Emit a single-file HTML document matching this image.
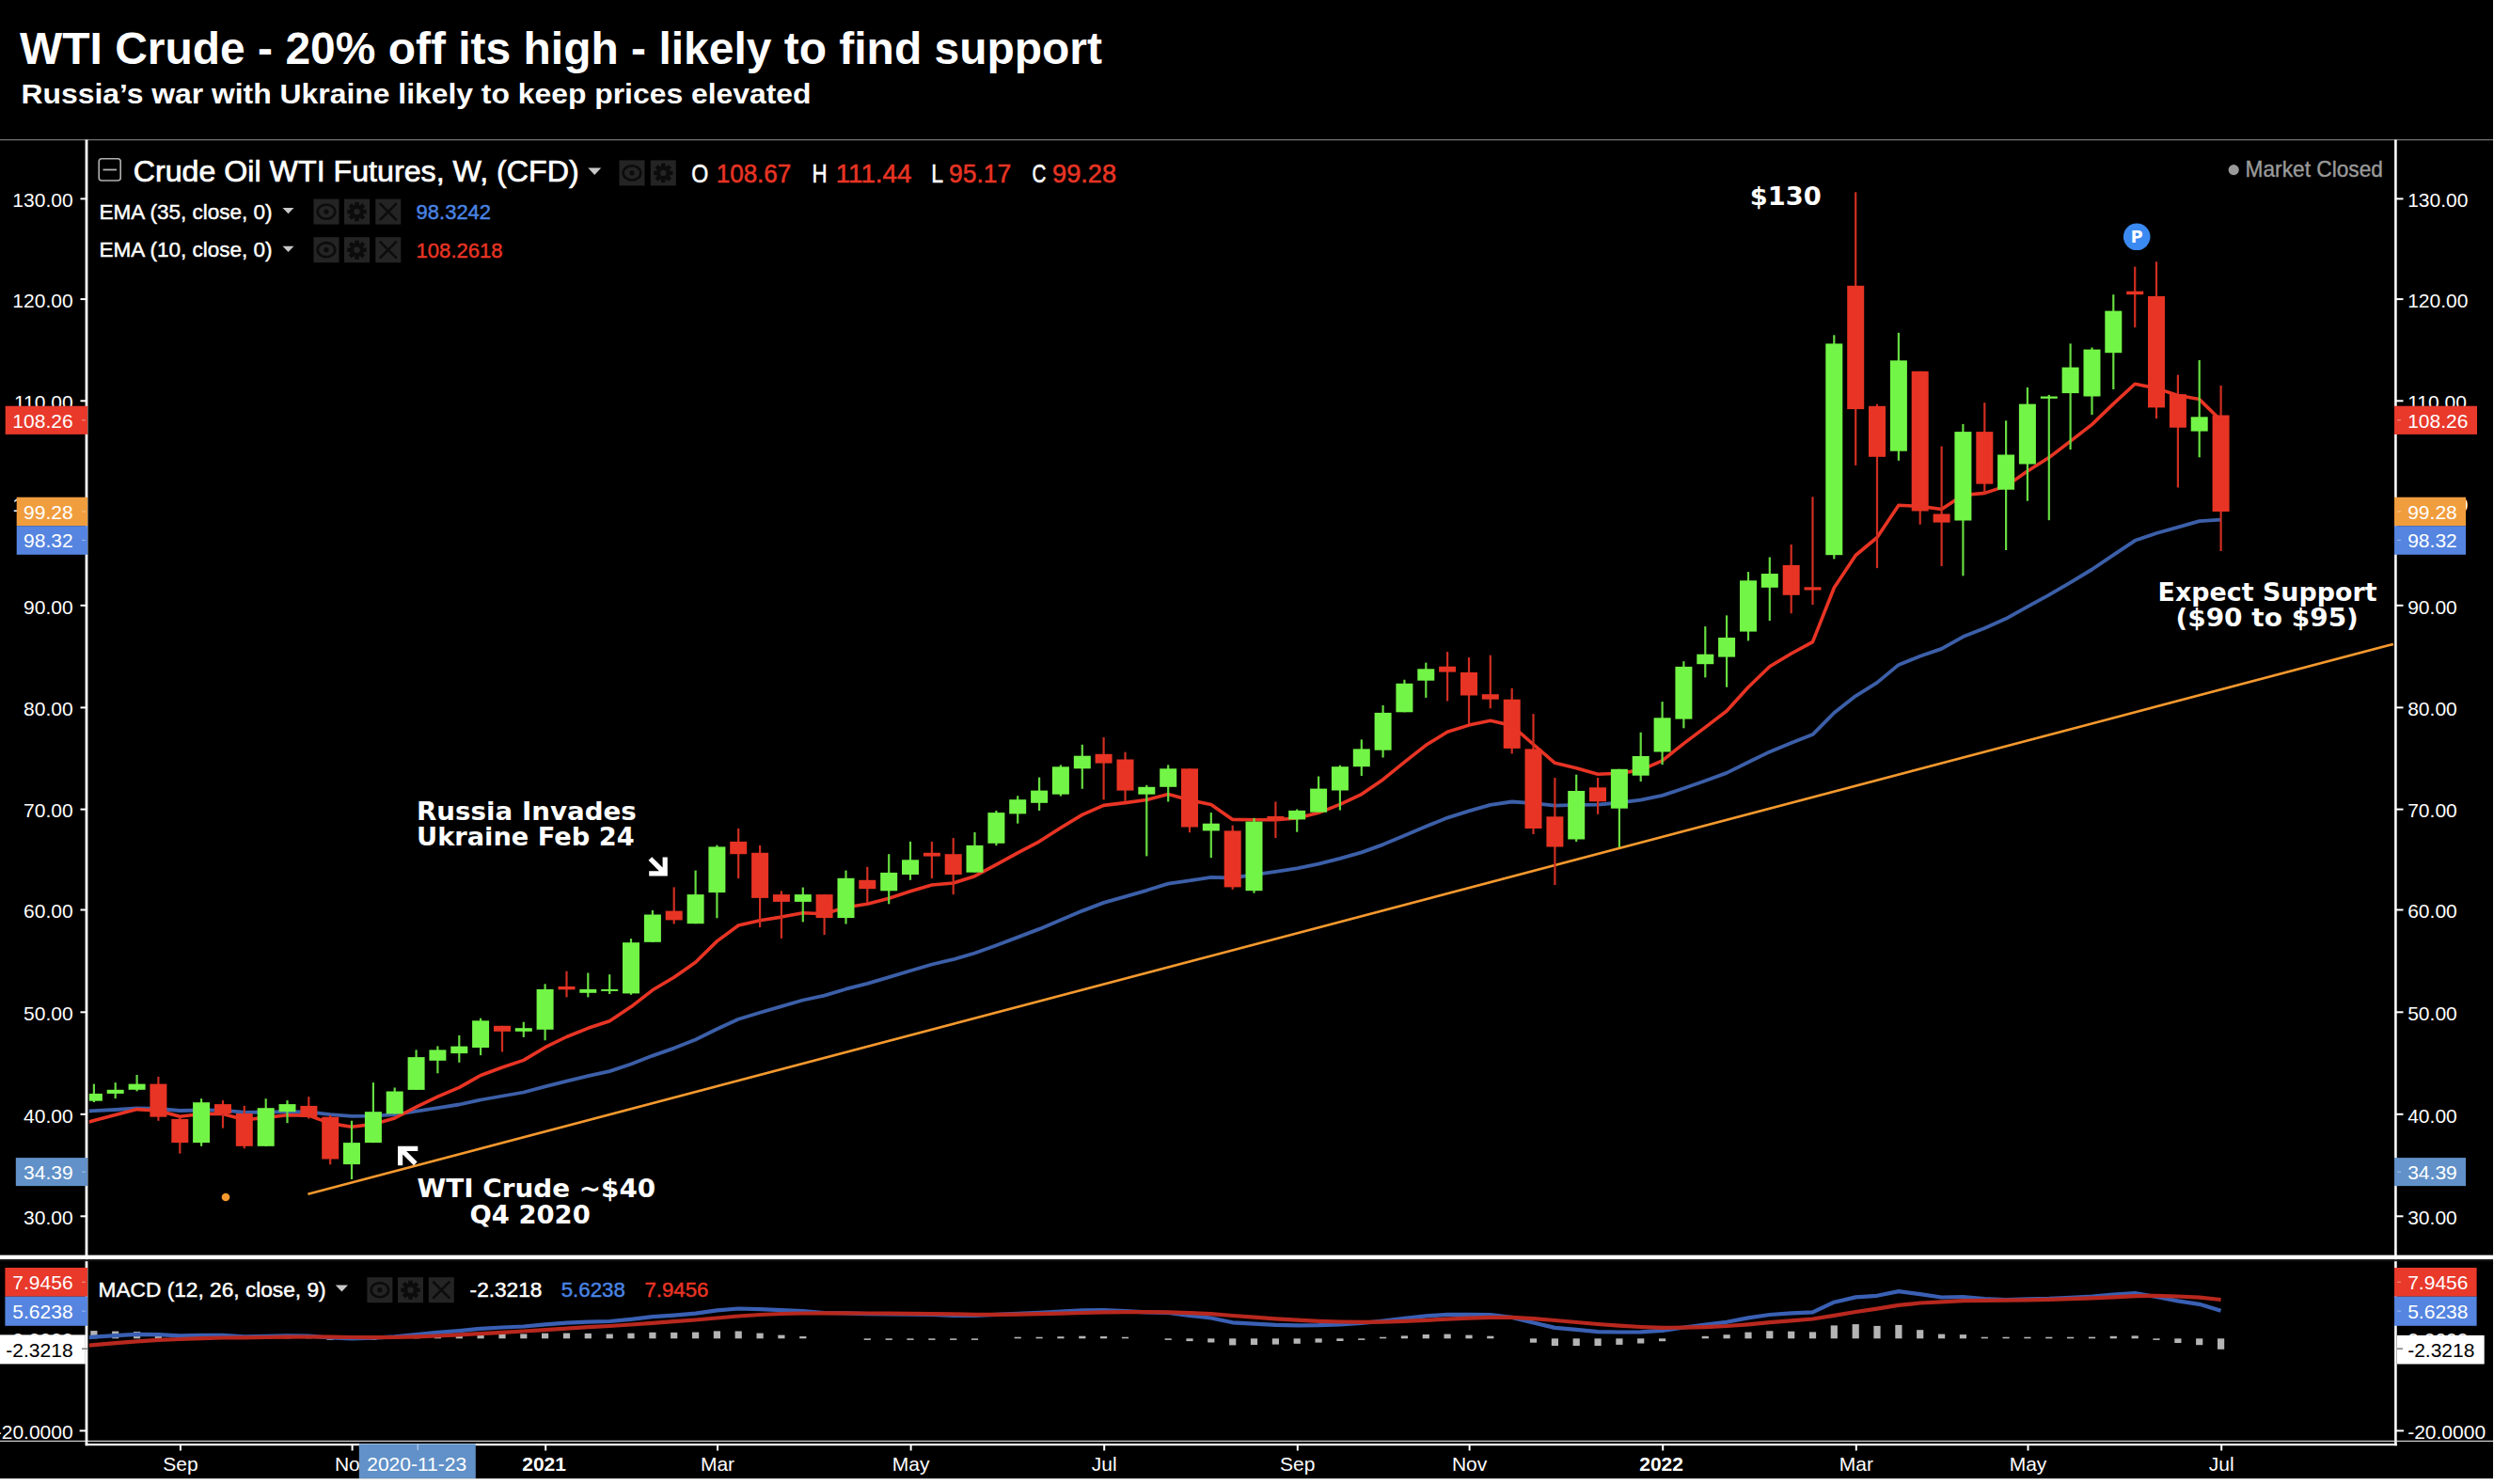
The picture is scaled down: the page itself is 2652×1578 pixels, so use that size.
<!DOCTYPE html>
<html lang="en"><head><meta charset="utf-8"><title>WTI Crude - 20% off its high - likely to find support</title>
<style>html,body{margin:0;padding:0;background:#000;}body{width:2652px;height:1578px;overflow:hidden;position:relative;}</style></head>
<body>
<svg width="2652" height="1578" viewBox="0 0 2652 1578" style="position:absolute;left:0;top:0;display:block">
<rect x="0" y="0" width="2652" height="1578" fill="#000"/>
<text x="21" y="68" font-family='"Liberation Sans", Arial, Helvetica, sans-serif' font-weight="700" font-size="48" fill="#fff" textLength="1151" lengthAdjust="spacingAndGlyphs">WTI Crude - 20% off its high - likely to find support</text>
<text x="22.5" y="109.7" font-family='"Liberation Sans", Arial, Helvetica, sans-serif' font-weight="700" font-size="30" fill="#fff" textLength="840" lengthAdjust="spacingAndGlyphs">Russia’s war with Ukraine likely to keep prices elevated</text>
<rect x="0" y="148" width="2651" height="1.3" fill="#707070"/>
<defs><clipPath id="cpMain"><rect x="94.8" y="149.5" width="2451" height="1185"/></clipPath><clipPath id="cpMacd"><rect x="94.8" y="1341" width="2451" height="191"/></clipPath></defs>
<g id="chart" clip-path="url(#cpMain)">
<line x1="327.4" y1="1269.8" x2="2545" y2="684.9" stroke="#f5992e" stroke-width="2.6" stroke-linecap="butt"/>
<circle cx="240" cy="1273" r="4.3" fill="#f5992e"/>
<polyline points="77.1,1182.4 99.9,1181.2 122.7,1180.0 145.6,1178.4 168.4,1179.0 191.3,1181.0 214.1,1180.5 237.0,1180.7 259.8,1182.8 282.7,1182.5 305.5,1182.1 328.4,1182.4 351.2,1185.2 374.0,1186.8 396.9,1186.6 419.7,1185.1 442.6,1181.7 465.4,1178.1 488.3,1174.5 511.1,1169.5 534.0,1165.5 556.8,1161.5 579.6,1155.4 602.5,1149.6 625.3,1144.2 648.2,1139.1 671.0,1131.5 693.9,1122.6 716.7,1114.6 739.6,1105.5 762.4,1094.2 785.2,1083.8 808.1,1076.7 830.9,1070.1 853.8,1063.5 876.6,1058.6 899.5,1051.7 922.3,1045.8 945.2,1039.2 968.0,1032.3 990.9,1025.5 1013.7,1020.2 1036.5,1013.5 1059.4,1005.2 1082.2,996.6 1105.1,987.9 1127.9,978.3 1150.8,968.6 1173.6,959.9 1196.5,953.3 1219.3,946.8 1242.2,939.6 1265.0,936.3 1287.8,932.9 1310.7,933.5 1333.5,930.2 1356.4,926.9 1379.2,923.3 1402.1,918.6 1424.9,912.8 1447.8,906.4 1470.6,898.1 1493.4,888.6 1516.3,878.8 1539.1,869.6 1562.0,862.4 1584.8,855.8 1607.7,852.5 1630.5,854.1 1653.4,856.6 1676.2,855.8 1699.0,855.6 1721.9,853.5 1744.7,850.7 1767.6,845.9 1790.4,838.3 1813.3,830.3 1836.1,821.9 1859.0,810.5 1881.8,799.4 1904.7,790.1 1927.5,781.1 1950.3,758.0 1973.2,740.1 1996.0,725.9 2018.9,706.9 2041.7,697.8 2064.6,689.9 2087.4,677.1 2110.3,668.1 2133.1,657.8 2155.9,645.1 2178.8,632.7 2201.6,619.3 2224.5,605.5 2247.3,590.2 2270.2,574.8 2293.0,567.0 2315.9,560.7 2338.7,554.2 2361.6,552.6" fill="none" stroke="#3c5fa8" stroke-width="3.8" stroke-linejoin="round" stroke-linecap="butt" />
<polyline points="77.1,1197.4 99.9,1191.5 122.7,1185.6 145.6,1179.6 168.4,1181.0 191.3,1187.2 214.1,1184.5 237.0,1184.4 259.8,1190.7 282.7,1188.4 305.5,1185.8 328.4,1186.1 351.2,1194.6 374.0,1198.3 396.9,1195.4 419.7,1189.0 442.6,1177.2 465.4,1166.2 488.3,1156.4 511.1,1143.5 534.0,1135.0 556.8,1127.4 579.6,1113.7 602.5,1102.5 625.3,1093.3 648.2,1085.8 671.0,1070.6 693.9,1052.8 716.7,1039.2 739.6,1023.2 762.4,1000.9 785.2,984.0 808.1,978.7 830.9,975.1 853.8,970.8 876.6,971.7 899.5,964.8 922.3,961.3 945.2,955.2 968.0,947.8 990.9,941.0 1013.7,939.0 1036.5,931.7 1059.4,919.4 1082.2,906.8 1105.1,894.8 1127.9,880.3 1150.8,866.4 1173.6,856.4 1196.5,853.6 1219.3,850.5 1242.2,844.5 1265.0,850.8 1287.8,855.4 1310.7,871.4 1333.5,871.8 1356.4,871.7 1379.2,870.0 1402.1,864.3 1424.9,855.3 1447.8,844.6 1470.6,828.9 1493.4,810.3 1516.3,792.3 1539.1,778.2 1562.0,771.1 1584.8,766.2 1607.7,771.6 1630.5,791.5 1653.4,811.3 1676.2,816.7 1699.0,823.2 1721.9,822.2 1744.7,818.9 1767.6,808.8 1790.4,790.6 1813.3,773.4 1836.1,756.0 1859.0,730.8 1881.8,708.8 1904.7,695.0 1927.5,682.7 1950.3,625.0 1973.2,590.5 1996.0,571.5 2018.9,537.3 2041.7,538.4 2064.6,541.5 2087.4,526.5 2110.3,524.4 2133.1,516.9 2155.9,501.1 2178.8,486.6 2201.6,469.1 2224.5,451.4 2247.3,429.4 2270.2,408.3 2293.0,412.9 2315.9,420.5 2338.7,424.6 2361.6,447.0" fill="none" stroke="#e83424" stroke-width="3.6" stroke-linejoin="round" stroke-linecap="butt" />
<rect x="98.8" y="1152.6" width="2.2" height="19.4" fill="#66dc40"/>
<rect x="90.9" y="1162.9" width="18.0" height="7.8" fill="#73f547"/>
<rect x="121.6" y="1151.1" width="2.2" height="17.0" fill="#66dc40"/>
<rect x="113.7" y="1158.8" width="18.0" height="4.1" fill="#73f547"/>
<rect x="144.5" y="1143.0" width="2.2" height="17.4" fill="#66dc40"/>
<rect x="136.6" y="1152.6" width="18.0" height="6.2" fill="#73f547"/>
<rect x="167.3" y="1144.9" width="2.2" height="46.9" fill="#d02e21"/>
<rect x="159.4" y="1152.6" width="18.0" height="35.1" fill="#e83424"/>
<rect x="190.2" y="1187.7" width="2.2" height="38.9" fill="#d02e21"/>
<rect x="182.3" y="1189.9" width="18.0" height="25.2" fill="#e83424"/>
<rect x="213.0" y="1168.2" width="2.2" height="50.6" fill="#66dc40"/>
<rect x="205.1" y="1172.2" width="18.0" height="42.9" fill="#73f547"/>
<rect x="235.9" y="1170.1" width="2.2" height="29.5" fill="#d02e21"/>
<rect x="228.0" y="1174.1" width="18.0" height="9.9" fill="#e83424"/>
<rect x="258.7" y="1175.9" width="2.2" height="45.4" fill="#d02e21"/>
<rect x="250.8" y="1184.0" width="18.0" height="34.8" fill="#e83424"/>
<rect x="281.6" y="1168.2" width="2.2" height="50.6" fill="#66dc40"/>
<rect x="273.7" y="1178.2" width="18.0" height="40.6" fill="#73f547"/>
<rect x="304.4" y="1170.1" width="2.2" height="24.1" fill="#66dc40"/>
<rect x="296.5" y="1174.1" width="18.0" height="8.1" fill="#73f547"/>
<rect x="327.2" y="1166.2" width="2.2" height="23.4" fill="#d02e21"/>
<rect x="319.4" y="1175.9" width="18.0" height="11.8" fill="#e83424"/>
<rect x="350.1" y="1185.9" width="2.2" height="52.4" fill="#d02e21"/>
<rect x="342.2" y="1187.7" width="18.0" height="44.8" fill="#e83424"/>
<rect x="372.9" y="1191.7" width="2.2" height="62.3" fill="#66dc40"/>
<rect x="365.0" y="1215.1" width="18.0" height="23.0" fill="#73f547"/>
<rect x="395.8" y="1151.1" width="2.2" height="64.0" fill="#66dc40"/>
<rect x="387.9" y="1182.2" width="18.0" height="32.9" fill="#73f547"/>
<rect x="418.6" y="1156.5" width="2.2" height="27.9" fill="#66dc40"/>
<rect x="410.7" y="1160.5" width="18.0" height="23.9" fill="#73f547"/>
<rect x="441.5" y="1116.4" width="2.2" height="42.5" fill="#66dc40"/>
<rect x="433.6" y="1124.1" width="18.0" height="34.8" fill="#73f547"/>
<rect x="464.3" y="1112.4" width="2.2" height="28.9" fill="#66dc40"/>
<rect x="456.4" y="1116.4" width="18.0" height="11.4" fill="#73f547"/>
<rect x="487.2" y="1100.9" width="2.2" height="28.9" fill="#66dc40"/>
<rect x="479.3" y="1112.6" width="18.0" height="7.5" fill="#73f547"/>
<rect x="510.0" y="1082.7" width="2.2" height="39.4" fill="#66dc40"/>
<rect x="502.1" y="1085.3" width="18.0" height="28.7" fill="#73f547"/>
<rect x="532.9" y="1090.8" width="2.2" height="27.7" fill="#d02e21"/>
<rect x="525.0" y="1090.8" width="18.0" height="6.0" fill="#e83424"/>
<rect x="555.7" y="1086.7" width="2.2" height="16.2" fill="#66dc40"/>
<rect x="547.8" y="1093.2" width="18.0" height="3.6" fill="#73f547"/>
<rect x="578.5" y="1046.3" width="2.2" height="60.0" fill="#66dc40"/>
<rect x="570.6" y="1051.9" width="18.0" height="42.9" fill="#73f547"/>
<rect x="601.4" y="1032.7" width="2.2" height="27.7" fill="#d02e21"/>
<rect x="593.5" y="1048.9" width="18.0" height="3.4" fill="#e83424"/>
<rect x="624.2" y="1034.5" width="2.2" height="25.9" fill="#66dc40"/>
<rect x="616.3" y="1051.9" width="18.0" height="3.9" fill="#73f547"/>
<rect x="647.1" y="1036.2" width="2.2" height="20.8" fill="#66dc40"/>
<rect x="639.2" y="1051.9" width="18.0" height="2.0" fill="#73f547"/>
<rect x="669.9" y="998.1" width="2.2" height="59.7" fill="#66dc40"/>
<rect x="662.0" y="1002.2" width="18.0" height="54.2" fill="#73f547"/>
<rect x="692.8" y="968.0" width="2.2" height="33.8" fill="#66dc40"/>
<rect x="684.9" y="972.5" width="18.0" height="29.3" fill="#73f547"/>
<rect x="715.6" y="943.4" width="2.2" height="39.1" fill="#d02e21"/>
<rect x="707.7" y="968.6" width="18.0" height="9.8" fill="#e83424"/>
<rect x="738.5" y="925.6" width="2.2" height="56.6" fill="#66dc40"/>
<rect x="730.6" y="951.1" width="18.0" height="31.1" fill="#73f547"/>
<rect x="761.3" y="898.6" width="2.2" height="77.7" fill="#66dc40"/>
<rect x="753.4" y="900.4" width="18.0" height="48.7" fill="#73f547"/>
<rect x="784.1" y="880.9" width="2.2" height="53.2" fill="#d02e21"/>
<rect x="776.2" y="894.9" width="18.0" height="13.3" fill="#e83424"/>
<rect x="807.0" y="898.9" width="2.2" height="87.2" fill="#d02e21"/>
<rect x="799.1" y="906.8" width="18.0" height="48.1" fill="#e83424"/>
<rect x="829.8" y="947.3" width="2.2" height="50.6" fill="#d02e21"/>
<rect x="821.9" y="951.1" width="18.0" height="7.8" fill="#e83424"/>
<rect x="852.7" y="943.6" width="2.2" height="36.8" fill="#66dc40"/>
<rect x="844.8" y="951.1" width="18.0" height="7.8" fill="#73f547"/>
<rect x="875.5" y="951.1" width="2.2" height="43.0" fill="#d02e21"/>
<rect x="867.6" y="951.1" width="18.0" height="25.0" fill="#e83424"/>
<rect x="898.4" y="925.6" width="2.2" height="56.9" fill="#66dc40"/>
<rect x="890.5" y="933.8" width="18.0" height="42.3" fill="#73f547"/>
<rect x="921.2" y="921.8" width="2.2" height="38.2" fill="#d02e21"/>
<rect x="913.3" y="935.8" width="18.0" height="9.4" fill="#e83424"/>
<rect x="944.1" y="908.2" width="2.2" height="53.1" fill="#66dc40"/>
<rect x="936.2" y="927.9" width="18.0" height="19.4" fill="#73f547"/>
<rect x="966.9" y="894.9" width="2.2" height="40.9" fill="#66dc40"/>
<rect x="959.0" y="914.3" width="18.0" height="15.7" fill="#73f547"/>
<rect x="989.8" y="894.9" width="2.2" height="39.2" fill="#d02e21"/>
<rect x="981.9" y="906.8" width="18.0" height="3.8" fill="#e83424"/>
<rect x="1012.6" y="891.1" width="2.2" height="60.0" fill="#d02e21"/>
<rect x="1004.7" y="908.2" width="18.0" height="21.8" fill="#e83424"/>
<rect x="1035.4" y="885.0" width="2.2" height="42.7" fill="#66dc40"/>
<rect x="1027.5" y="898.9" width="18.0" height="28.8" fill="#73f547"/>
<rect x="1058.3" y="862.0" width="2.2" height="37.2" fill="#66dc40"/>
<rect x="1050.4" y="864.1" width="18.0" height="32.7" fill="#73f547"/>
<rect x="1081.1" y="846.3" width="2.2" height="29.4" fill="#66dc40"/>
<rect x="1073.2" y="850.2" width="18.0" height="15.2" fill="#73f547"/>
<rect x="1104.0" y="826.6" width="2.2" height="35.4" fill="#66dc40"/>
<rect x="1096.1" y="840.6" width="18.0" height="13.2" fill="#73f547"/>
<rect x="1126.8" y="813.4" width="2.2" height="33.2" fill="#66dc40"/>
<rect x="1118.9" y="815.3" width="18.0" height="29.4" fill="#73f547"/>
<rect x="1149.7" y="791.8" width="2.2" height="47.0" fill="#66dc40"/>
<rect x="1141.8" y="803.7" width="18.0" height="13.6" fill="#73f547"/>
<rect x="1172.5" y="784.0" width="2.2" height="66.4" fill="#d02e21"/>
<rect x="1164.6" y="801.8" width="18.0" height="9.8" fill="#e83424"/>
<rect x="1195.4" y="799.7" width="2.2" height="52.1" fill="#d02e21"/>
<rect x="1187.5" y="807.5" width="18.0" height="33.1" fill="#e83424"/>
<rect x="1218.2" y="834.8" width="2.2" height="75.6" fill="#66dc40"/>
<rect x="1210.3" y="836.8" width="18.0" height="7.9" fill="#73f547"/>
<rect x="1241.1" y="813.4" width="2.2" height="39.1" fill="#66dc40"/>
<rect x="1233.2" y="817.3" width="18.0" height="19.5" fill="#73f547"/>
<rect x="1263.9" y="817.3" width="2.2" height="67.9" fill="#d02e21"/>
<rect x="1256.0" y="817.3" width="18.0" height="62.2" fill="#e83424"/>
<rect x="1286.7" y="864.1" width="2.2" height="48.1" fill="#66dc40"/>
<rect x="1278.8" y="875.7" width="18.0" height="7.7" fill="#73f547"/>
<rect x="1309.6" y="877.7" width="2.2" height="68.2" fill="#d02e21"/>
<rect x="1301.7" y="883.4" width="18.0" height="60.0" fill="#e83424"/>
<rect x="1332.4" y="869.8" width="2.2" height="79.9" fill="#66dc40"/>
<rect x="1324.5" y="873.6" width="18.0" height="73.6" fill="#73f547"/>
<rect x="1355.3" y="852.5" width="2.2" height="38.6" fill="#d02e21"/>
<rect x="1347.4" y="867.9" width="18.0" height="3.7" fill="#e83424"/>
<rect x="1378.1" y="860.5" width="2.2" height="24.2" fill="#66dc40"/>
<rect x="1370.2" y="861.9" width="18.0" height="9.5" fill="#73f547"/>
<rect x="1401.0" y="825.5" width="2.2" height="38.2" fill="#66dc40"/>
<rect x="1393.1" y="838.6" width="18.0" height="25.1" fill="#73f547"/>
<rect x="1423.8" y="813.7" width="2.2" height="47.9" fill="#66dc40"/>
<rect x="1415.9" y="815.2" width="18.0" height="25.3" fill="#73f547"/>
<rect x="1446.7" y="786.4" width="2.2" height="38.6" fill="#66dc40"/>
<rect x="1438.8" y="796.4" width="18.0" height="18.8" fill="#73f547"/>
<rect x="1469.5" y="750.0" width="2.2" height="55.5" fill="#66dc40"/>
<rect x="1461.6" y="757.9" width="18.0" height="39.8" fill="#73f547"/>
<rect x="1492.3" y="722.8" width="2.2" height="34.5" fill="#66dc40"/>
<rect x="1484.4" y="726.8" width="18.0" height="30.5" fill="#73f547"/>
<rect x="1515.2" y="704.6" width="2.2" height="37.3" fill="#66dc40"/>
<rect x="1507.3" y="711.3" width="18.0" height="12.4" fill="#73f547"/>
<rect x="1538.0" y="693.1" width="2.2" height="52.4" fill="#d02e21"/>
<rect x="1530.1" y="708.7" width="18.0" height="5.9" fill="#e83424"/>
<rect x="1560.9" y="699.1" width="2.2" height="70.9" fill="#d02e21"/>
<rect x="1553.0" y="714.9" width="18.0" height="24.6" fill="#e83424"/>
<rect x="1583.7" y="696.7" width="2.2" height="56.6" fill="#d02e21"/>
<rect x="1575.8" y="738.2" width="18.0" height="5.5" fill="#e83424"/>
<rect x="1606.6" y="731.8" width="2.2" height="69.7" fill="#d02e21"/>
<rect x="1598.7" y="743.7" width="18.0" height="52.2" fill="#e83424"/>
<rect x="1629.4" y="759.1" width="2.2" height="127.9" fill="#d02e21"/>
<rect x="1621.5" y="796.4" width="18.0" height="84.6" fill="#e83424"/>
<rect x="1652.3" y="827.0" width="2.2" height="114.0" fill="#d02e21"/>
<rect x="1644.4" y="868.3" width="18.0" height="32.2" fill="#e83424"/>
<rect x="1675.1" y="823.7" width="2.2" height="71.3" fill="#66dc40"/>
<rect x="1667.2" y="841.0" width="18.0" height="51.5" fill="#73f547"/>
<rect x="1698.0" y="827.0" width="2.2" height="38.8" fill="#d02e21"/>
<rect x="1690.0" y="837.3" width="18.0" height="15.0" fill="#e83424"/>
<rect x="1720.8" y="817.8" width="2.2" height="83.2" fill="#66dc40"/>
<rect x="1712.9" y="817.8" width="18.0" height="41.9" fill="#73f547"/>
<rect x="1743.6" y="778.8" width="2.2" height="52.3" fill="#66dc40"/>
<rect x="1735.7" y="804.0" width="18.0" height="20.7" fill="#73f547"/>
<rect x="1766.5" y="746.1" width="2.2" height="67.1" fill="#66dc40"/>
<rect x="1758.6" y="763.3" width="18.0" height="36.2" fill="#73f547"/>
<rect x="1789.3" y="703.2" width="2.2" height="71.1" fill="#66dc40"/>
<rect x="1781.4" y="708.9" width="18.0" height="55.7" fill="#73f547"/>
<rect x="1812.2" y="666.1" width="2.2" height="54.3" fill="#66dc40"/>
<rect x="1804.3" y="695.7" width="18.0" height="10.5" fill="#73f547"/>
<rect x="1835.0" y="654.4" width="2.2" height="76.3" fill="#66dc40"/>
<rect x="1827.1" y="678.0" width="18.0" height="20.6" fill="#73f547"/>
<rect x="1857.9" y="608.1" width="2.2" height="73.3" fill="#66dc40"/>
<rect x="1850.0" y="617.3" width="18.0" height="54.3" fill="#73f547"/>
<rect x="1880.7" y="592.5" width="2.2" height="67.6" fill="#66dc40"/>
<rect x="1872.8" y="610.0" width="18.0" height="14.8" fill="#73f547"/>
<rect x="1903.6" y="579.0" width="2.2" height="73.3" fill="#d02e21"/>
<rect x="1895.7" y="600.9" width="18.0" height="31.9" fill="#e83424"/>
<rect x="1926.4" y="528.3" width="2.2" height="114.7" fill="#d02e21"/>
<rect x="1918.5" y="624.3" width="18.0" height="3.2" fill="#e83424"/>
<rect x="1949.2" y="356.3" width="2.2" height="238.1" fill="#66dc40"/>
<rect x="1941.3" y="365.4" width="18.0" height="224.8" fill="#73f547"/>
<rect x="1972.1" y="204.3" width="2.2" height="290.6" fill="#d02e21"/>
<rect x="1964.2" y="303.8" width="18.0" height="131.3" fill="#e83424"/>
<rect x="1994.9" y="429.7" width="2.2" height="174.4" fill="#d02e21"/>
<rect x="1987.0" y="431.8" width="18.0" height="54.0" fill="#e83424"/>
<rect x="2017.8" y="353.8" width="2.2" height="136.0" fill="#66dc40"/>
<rect x="2009.9" y="383.3" width="18.0" height="96.4" fill="#73f547"/>
<rect x="2040.6" y="394.8" width="2.2" height="162.9" fill="#d02e21"/>
<rect x="2032.7" y="394.8" width="18.0" height="148.7" fill="#e83424"/>
<rect x="2063.5" y="474.6" width="2.2" height="127.4" fill="#d02e21"/>
<rect x="2055.6" y="546.5" width="18.0" height="9.1" fill="#e83424"/>
<rect x="2086.3" y="450.9" width="2.2" height="161.4" fill="#66dc40"/>
<rect x="2078.4" y="459.1" width="18.0" height="94.4" fill="#73f547"/>
<rect x="2109.2" y="428.2" width="2.2" height="97.1" fill="#d02e21"/>
<rect x="2101.3" y="459.1" width="18.0" height="55.5" fill="#e83424"/>
<rect x="2132.0" y="447.3" width="2.2" height="137.7" fill="#66dc40"/>
<rect x="2124.1" y="483.5" width="18.0" height="37.2" fill="#73f547"/>
<rect x="2154.8" y="412.0" width="2.2" height="120.7" fill="#66dc40"/>
<rect x="2146.9" y="429.6" width="18.0" height="63.9" fill="#73f547"/>
<rect x="2177.7" y="419.9" width="2.2" height="133.3" fill="#66dc40"/>
<rect x="2169.8" y="421.5" width="18.0" height="2.3" fill="#73f547"/>
<rect x="2200.5" y="365.4" width="2.2" height="112.7" fill="#66dc40"/>
<rect x="2192.6" y="390.6" width="18.0" height="27.5" fill="#73f547"/>
<rect x="2223.4" y="369.5" width="2.2" height="71.5" fill="#66dc40"/>
<rect x="2215.5" y="371.6" width="18.0" height="49.9" fill="#73f547"/>
<rect x="2246.2" y="313.2" width="2.2" height="100.8" fill="#66dc40"/>
<rect x="2238.3" y="330.6" width="18.0" height="44.6" fill="#73f547"/>
<rect x="2269.1" y="283.6" width="2.2" height="64.6" fill="#d02e21"/>
<rect x="2261.2" y="309.7" width="18.0" height="3.5" fill="#e83424"/>
<rect x="2291.9" y="278.3" width="2.2" height="166.8" fill="#d02e21"/>
<rect x="2284.0" y="315.0" width="18.0" height="118.4" fill="#e83424"/>
<rect x="2314.8" y="398.6" width="2.2" height="119.8" fill="#d02e21"/>
<rect x="2306.9" y="419.2" width="18.0" height="35.5" fill="#e83424"/>
<rect x="2337.6" y="383.0" width="2.2" height="103.3" fill="#66dc40"/>
<rect x="2329.7" y="443.3" width="18.0" height="15.3" fill="#73f547"/>
<rect x="2360.5" y="410.0" width="2.2" height="176.0" fill="#d02e21"/>
<rect x="2352.6" y="441.5" width="18.0" height="102.5" fill="#e83424"/>
</g>
<g id="macd" clip-path="url(#cpMacd)">
<rect x="96.3" y="1415.1" width="7.2" height="8.2" fill="#b4b4b4"/>
<rect x="119.1" y="1415.6" width="7.2" height="7.7" fill="#b4b4b4"/>
<rect x="142.0" y="1416.0" width="7.2" height="7.3" fill="#b4b4b4"/>
<rect x="164.8" y="1417.7" width="7.2" height="5.6" fill="#b4b4b4"/>
<rect x="187.7" y="1419.9" width="7.2" height="3.4" fill="#b4b4b4"/>
<rect x="210.5" y="1420.1" width="7.2" height="3.2" fill="#b4b4b4"/>
<rect x="233.4" y="1420.8" width="7.2" height="2.5" fill="#b4b4b4"/>
<rect x="256.2" y="1421.7" width="7.2" height="1.6" fill="#b4b4b4"/>
<rect x="279.1" y="1421.7" width="7.2" height="1.6" fill="#b4b4b4"/>
<rect x="301.9" y="1421.7" width="7.2" height="1.6" fill="#b4b4b4"/>
<rect x="324.8" y="1421.7" width="7.2" height="1.6" fill="#b4b4b4"/>
<rect x="347.6" y="1423.3" width="7.2" height="1.6" fill="#b4b4b4"/>
<rect x="370.4" y="1423.3" width="7.2" height="1.6" fill="#b4b4b4"/>
<rect x="393.3" y="1423.3" width="7.2" height="1.6" fill="#b4b4b4"/>
<rect x="416.1" y="1421.7" width="7.2" height="1.6" fill="#b4b4b4"/>
<rect x="439.0" y="1421.0" width="7.2" height="2.3" fill="#b4b4b4"/>
<rect x="461.8" y="1419.8" width="7.2" height="3.5" fill="#b4b4b4"/>
<rect x="484.7" y="1419.1" width="7.2" height="4.2" fill="#b4b4b4"/>
<rect x="507.5" y="1418.1" width="7.2" height="5.2" fill="#b4b4b4"/>
<rect x="530.4" y="1418.2" width="7.2" height="5.1" fill="#b4b4b4"/>
<rect x="553.2" y="1418.4" width="7.2" height="4.9" fill="#b4b4b4"/>
<rect x="576.0" y="1417.7" width="7.2" height="5.6" fill="#b4b4b4"/>
<rect x="598.9" y="1417.6" width="7.2" height="5.7" fill="#b4b4b4"/>
<rect x="621.7" y="1417.9" width="7.2" height="5.4" fill="#b4b4b4"/>
<rect x="644.6" y="1418.5" width="7.2" height="4.8" fill="#b4b4b4"/>
<rect x="667.4" y="1417.7" width="7.2" height="5.6" fill="#b4b4b4"/>
<rect x="690.3" y="1416.8" width="7.2" height="6.5" fill="#b4b4b4"/>
<rect x="713.1" y="1416.9" width="7.2" height="6.4" fill="#b4b4b4"/>
<rect x="736.0" y="1416.6" width="7.2" height="6.7" fill="#b4b4b4"/>
<rect x="758.8" y="1415.4" width="7.2" height="7.9" fill="#b4b4b4"/>
<rect x="781.6" y="1415.5" width="7.2" height="7.8" fill="#b4b4b4"/>
<rect x="804.5" y="1417.6" width="7.2" height="5.7" fill="#b4b4b4"/>
<rect x="827.3" y="1419.6" width="7.2" height="3.7" fill="#b4b4b4"/>
<rect x="850.2" y="1421.0" width="7.2" height="2.3" fill="#b4b4b4"/>
<rect x="918.7" y="1423.3" width="7.2" height="1.6" fill="#b4b4b4"/>
<rect x="941.6" y="1423.3" width="7.2" height="1.6" fill="#b4b4b4"/>
<rect x="964.4" y="1423.3" width="7.2" height="1.6" fill="#b4b4b4"/>
<rect x="987.3" y="1423.3" width="7.2" height="1.6" fill="#b4b4b4"/>
<rect x="1010.1" y="1423.3" width="7.2" height="1.6" fill="#b4b4b4"/>
<rect x="1032.9" y="1423.3" width="7.2" height="1.6" fill="#b4b4b4"/>
<rect x="1078.6" y="1421.7" width="7.2" height="1.6" fill="#b4b4b4"/>
<rect x="1101.5" y="1421.7" width="7.2" height="1.6" fill="#b4b4b4"/>
<rect x="1124.3" y="1421.2" width="7.2" height="2.1" fill="#b4b4b4"/>
<rect x="1147.2" y="1420.7" width="7.2" height="2.6" fill="#b4b4b4"/>
<rect x="1170.0" y="1421.0" width="7.2" height="2.3" fill="#b4b4b4"/>
<rect x="1192.9" y="1421.7" width="7.2" height="1.6" fill="#b4b4b4"/>
<rect x="1238.6" y="1423.3" width="7.2" height="1.6" fill="#b4b4b4"/>
<rect x="1261.4" y="1423.3" width="7.2" height="2.8" fill="#b4b4b4"/>
<rect x="1284.2" y="1423.3" width="7.2" height="4.2" fill="#b4b4b4"/>
<rect x="1307.1" y="1423.3" width="7.2" height="7.1" fill="#b4b4b4"/>
<rect x="1329.9" y="1423.3" width="7.2" height="6.7" fill="#b4b4b4"/>
<rect x="1352.8" y="1423.3" width="7.2" height="6.3" fill="#b4b4b4"/>
<rect x="1375.6" y="1423.3" width="7.2" height="5.5" fill="#b4b4b4"/>
<rect x="1398.5" y="1423.3" width="7.2" height="4.3" fill="#b4b4b4"/>
<rect x="1421.3" y="1423.3" width="7.2" height="2.7" fill="#b4b4b4"/>
<rect x="1444.2" y="1423.3" width="7.2" height="1.6" fill="#b4b4b4"/>
<rect x="1467.0" y="1421.7" width="7.2" height="1.6" fill="#b4b4b4"/>
<rect x="1489.8" y="1420.4" width="7.2" height="2.9" fill="#b4b4b4"/>
<rect x="1512.7" y="1419.0" width="7.2" height="4.3" fill="#b4b4b4"/>
<rect x="1535.5" y="1418.6" width="7.2" height="4.7" fill="#b4b4b4"/>
<rect x="1558.4" y="1419.6" width="7.2" height="3.7" fill="#b4b4b4"/>
<rect x="1581.2" y="1420.7" width="7.2" height="2.6" fill="#b4b4b4"/>
<rect x="1626.9" y="1423.3" width="7.2" height="4.4" fill="#b4b4b4"/>
<rect x="1649.8" y="1423.3" width="7.2" height="7.7" fill="#b4b4b4"/>
<rect x="1672.6" y="1423.3" width="7.2" height="7.7" fill="#b4b4b4"/>
<rect x="1695.5" y="1423.3" width="7.2" height="7.8" fill="#b4b4b4"/>
<rect x="1718.3" y="1423.3" width="7.2" height="6.6" fill="#b4b4b4"/>
<rect x="1741.1" y="1423.3" width="7.2" height="5.2" fill="#b4b4b4"/>
<rect x="1764.0" y="1423.3" width="7.2" height="2.9" fill="#b4b4b4"/>
<rect x="1809.7" y="1420.8" width="7.2" height="2.5" fill="#b4b4b4"/>
<rect x="1832.5" y="1419.2" width="7.2" height="4.1" fill="#b4b4b4"/>
<rect x="1855.4" y="1416.6" width="7.2" height="6.7" fill="#b4b4b4"/>
<rect x="1878.2" y="1415.3" width="7.2" height="8.0" fill="#b4b4b4"/>
<rect x="1901.1" y="1415.7" width="7.2" height="7.6" fill="#b4b4b4"/>
<rect x="1923.9" y="1416.4" width="7.2" height="6.9" fill="#b4b4b4"/>
<rect x="1946.7" y="1409.4" width="7.2" height="13.9" fill="#b4b4b4"/>
<rect x="1969.6" y="1408.1" width="7.2" height="15.2" fill="#b4b4b4"/>
<rect x="1992.4" y="1409.9" width="7.2" height="13.4" fill="#b4b4b4"/>
<rect x="2015.3" y="1408.9" width="7.2" height="14.4" fill="#b4b4b4"/>
<rect x="2038.1" y="1414.2" width="7.2" height="9.1" fill="#b4b4b4"/>
<rect x="2061.0" y="1418.6" width="7.2" height="4.7" fill="#b4b4b4"/>
<rect x="2083.8" y="1419.1" width="7.2" height="4.2" fill="#b4b4b4"/>
<rect x="2106.7" y="1421.7" width="7.2" height="1.6" fill="#b4b4b4"/>
<rect x="2129.5" y="1421.7" width="7.2" height="1.6" fill="#b4b4b4"/>
<rect x="2152.3" y="1421.7" width="7.2" height="1.6" fill="#b4b4b4"/>
<rect x="2175.2" y="1421.7" width="7.2" height="1.6" fill="#b4b4b4"/>
<rect x="2198.0" y="1421.7" width="7.2" height="1.6" fill="#b4b4b4"/>
<rect x="2220.9" y="1421.6" width="7.2" height="1.7" fill="#b4b4b4"/>
<rect x="2243.7" y="1420.8" width="7.2" height="2.5" fill="#b4b4b4"/>
<rect x="2266.6" y="1420.4" width="7.2" height="2.9" fill="#b4b4b4"/>
<rect x="2289.4" y="1423.3" width="7.2" height="1.6" fill="#b4b4b4"/>
<rect x="2312.3" y="1423.3" width="7.2" height="4.7" fill="#b4b4b4"/>
<rect x="2335.1" y="1423.3" width="7.2" height="6.9" fill="#b4b4b4"/>
<rect x="2358.0" y="1423.3" width="7.2" height="11.5" fill="#b4b4b4"/>
<polyline points="77.1,1423.3 99.9,1421.7 122.7,1420.2 145.6,1418.8 168.4,1419.1 191.3,1420.4 214.1,1419.9 237.0,1419.9 259.8,1421.3 282.7,1420.9 305.5,1420.4 328.4,1420.6 351.2,1422.5 374.0,1423.4 396.9,1422.7 419.7,1421.4 442.6,1419.0 465.4,1416.9 488.3,1415.1 511.1,1412.8 534.0,1411.5 556.8,1410.5 579.6,1408.3 602.5,1406.7 625.3,1405.7 648.2,1405.0 671.0,1402.8 693.9,1400.2 716.7,1398.6 739.6,1396.6 762.4,1393.4 785.2,1391.5 808.1,1392.2 830.9,1393.2 853.8,1394.1 876.6,1396.0 899.5,1396.3 922.3,1397.2 945.2,1397.5 968.0,1397.6 990.9,1397.8 1013.7,1399.0 1036.5,1399.0 1059.4,1397.9 1082.2,1396.8 1105.1,1395.9 1127.9,1394.5 1150.8,1393.3 1173.6,1393.0 1196.5,1394.2 1219.3,1395.4 1242.2,1395.8 1265.0,1398.9 1287.8,1401.5 1310.7,1406.3 1333.5,1407.6 1356.4,1408.8 1379.2,1409.4 1402.1,1409.2 1424.9,1408.3 1447.8,1407.0 1470.6,1404.7 1493.4,1401.9 1516.3,1399.4 1539.1,1397.8 1562.0,1397.8 1584.8,1398.2 1607.7,1400.9 1630.5,1406.5 1653.4,1411.9 1676.2,1413.9 1699.0,1416.1 1721.9,1416.5 1744.7,1416.4 1767.6,1414.8 1790.4,1411.5 1813.3,1408.6 1836.1,1405.8 1859.0,1401.4 1881.8,1398.0 1904.7,1396.4 1927.5,1395.3 1950.3,1384.7 1973.2,1379.4 1996.0,1377.8 2018.9,1373.1 2041.7,1376.1 2064.6,1379.5 2087.4,1379.0 2110.3,1381.2 2133.1,1382.2 2155.9,1381.4 2178.8,1380.9 2201.6,1379.8 2224.5,1378.7 2247.3,1376.7 2270.2,1375.1 2293.0,1379.0 2315.9,1383.4 2338.7,1386.8 2361.6,1393.8" fill="none" stroke="#3a60b4" stroke-width="4.2" stroke-linejoin="round" stroke-linecap="butt" />
<polyline points="77.1,1432.1 99.9,1430.1 122.7,1428.1 145.6,1426.3 168.4,1424.8 191.3,1424.0 214.1,1423.1 237.0,1422.5 259.8,1422.3 282.7,1422.0 305.5,1421.7 328.4,1421.5 351.2,1421.7 374.0,1422.0 396.9,1422.2 419.7,1422.0 442.6,1421.4 465.4,1420.5 488.3,1419.4 511.1,1418.1 534.0,1416.8 556.8,1415.5 579.6,1414.1 602.5,1412.6 625.3,1411.2 648.2,1410.0 671.0,1408.5 693.9,1406.9 716.7,1405.2 739.6,1403.5 762.4,1401.5 785.2,1399.5 808.1,1398.0 830.9,1397.0 853.8,1396.5 876.6,1396.4 899.5,1396.4 922.3,1396.5 945.2,1396.7 968.0,1396.9 990.9,1397.1 1013.7,1397.4 1036.5,1397.8 1059.4,1397.8 1082.2,1397.6 1105.1,1397.2 1127.9,1396.7 1150.8,1396.0 1173.6,1395.4 1196.5,1395.2 1219.3,1395.2 1242.2,1395.3 1265.0,1396.1 1287.8,1397.1 1310.7,1399.0 1333.5,1400.7 1356.4,1402.3 1379.2,1403.7 1402.1,1404.8 1424.9,1405.5 1447.8,1405.8 1470.6,1405.6 1493.4,1404.9 1516.3,1403.8 1539.1,1402.6 1562.0,1401.6 1584.8,1400.9 1607.7,1400.9 1630.5,1402.1 1653.4,1404.0 1676.2,1406.0 1699.0,1408.0 1721.9,1409.7 1744.7,1411.0 1767.6,1411.8 1790.4,1411.7 1813.3,1411.1 1836.1,1410.0 1859.0,1408.3 1881.8,1406.2 1904.7,1404.3 1927.5,1402.5 1950.3,1398.9 1973.2,1395.0 1996.0,1391.6 2018.9,1387.9 2041.7,1385.5 2064.6,1384.3 2087.4,1383.2 2110.3,1382.8 2133.1,1382.7 2155.9,1382.4 2178.8,1381.9 2201.6,1381.2 2224.5,1380.4 2247.3,1379.4 2270.2,1378.1 2293.0,1377.9 2315.9,1378.5 2338.7,1379.7 2361.6,1382.0" fill="none" stroke="#b8281e" stroke-width="4.2" stroke-linejoin="round" stroke-linecap="butt" />
</g>
<rect x="90.6" y="148.6" width="2.8" height="1388.6" fill="#fff"/>
<rect x="2546.1" y="148.6" width="2.6" height="1388.6" fill="#fff"/>
<rect x="0" y="1334.6" width="2651" height="4.6" fill="#fff"/>
<rect x="0" y="1339.2" width="2651" height="2" fill="#141414"/>
<rect x="0" y="1531.8" width="2651" height="1.1" fill="#e8e8e8"/>
<rect x="90.8" y="1535" width="2458.2" height="2.2" fill="#fff"/>
<text x="77.6" y="220.1" font-family='"Liberation Sans", Arial, Helvetica, sans-serif' font-size="21" font-weight="400" fill="#fff" text-anchor="end">130.00</text>
<rect x="85.5" y="210.4" width="6" height="2" fill="#fff"/>
<text x="2560.2" y="220.1" font-family='"Liberation Sans", Arial, Helvetica, sans-serif' font-size="21" font-weight="400" fill="#fff" text-anchor="start">130.00</text>
<rect x="2548" y="210.4" width="7.5" height="2" fill="#fff"/>
<text x="77.6" y="326.8" font-family='"Liberation Sans", Arial, Helvetica, sans-serif' font-size="21" font-weight="400" fill="#fff" text-anchor="end">120.00</text>
<rect x="85.5" y="317.1" width="6" height="2" fill="#fff"/>
<text x="2560.2" y="326.8" font-family='"Liberation Sans", Arial, Helvetica, sans-serif' font-size="21" font-weight="400" fill="#fff" text-anchor="start">120.00</text>
<rect x="2548" y="317.1" width="7.5" height="2" fill="#fff"/>
<text x="77.6" y="435.0" font-family='"Liberation Sans", Arial, Helvetica, sans-serif' font-size="21" font-weight="400" fill="#fff" text-anchor="end">110.00</text>
<rect x="85.5" y="425.3" width="6" height="2" fill="#fff"/>
<text x="2560.2" y="435.0" font-family='"Liberation Sans", Arial, Helvetica, sans-serif' font-size="21" font-weight="400" fill="#fff" text-anchor="start">110.00</text>
<rect x="2548" y="425.3" width="7.5" height="2" fill="#fff"/>
<text x="77.6" y="652.5" font-family='"Liberation Sans", Arial, Helvetica, sans-serif' font-size="21" font-weight="400" fill="#fff" text-anchor="end">90.00</text>
<rect x="85.5" y="642.8" width="6" height="2" fill="#fff"/>
<text x="2560.2" y="652.5" font-family='"Liberation Sans", Arial, Helvetica, sans-serif' font-size="21" font-weight="400" fill="#fff" text-anchor="start">90.00</text>
<rect x="2548" y="642.8" width="7.5" height="2" fill="#fff"/>
<text x="77.6" y="761.1" font-family='"Liberation Sans", Arial, Helvetica, sans-serif' font-size="21" font-weight="400" fill="#fff" text-anchor="end">80.00</text>
<rect x="85.5" y="751.4" width="6" height="2" fill="#fff"/>
<text x="2560.2" y="761.1" font-family='"Liberation Sans", Arial, Helvetica, sans-serif' font-size="21" font-weight="400" fill="#fff" text-anchor="start">80.00</text>
<rect x="2548" y="751.4" width="7.5" height="2" fill="#fff"/>
<text x="77.6" y="869.3" font-family='"Liberation Sans", Arial, Helvetica, sans-serif' font-size="21" font-weight="400" fill="#fff" text-anchor="end">70.00</text>
<rect x="85.5" y="859.6" width="6" height="2" fill="#fff"/>
<text x="2560.2" y="869.3" font-family='"Liberation Sans", Arial, Helvetica, sans-serif' font-size="21" font-weight="400" fill="#fff" text-anchor="start">70.00</text>
<rect x="2548" y="859.6" width="7.5" height="2" fill="#fff"/>
<text x="77.6" y="976.2" font-family='"Liberation Sans", Arial, Helvetica, sans-serif' font-size="21" font-weight="400" fill="#fff" text-anchor="end">60.00</text>
<rect x="85.5" y="966.5" width="6" height="2" fill="#fff"/>
<text x="2560.2" y="976.2" font-family='"Liberation Sans", Arial, Helvetica, sans-serif' font-size="21" font-weight="400" fill="#fff" text-anchor="start">60.00</text>
<rect x="2548" y="966.5" width="7.5" height="2" fill="#fff"/>
<text x="77.6" y="1085.0" font-family='"Liberation Sans", Arial, Helvetica, sans-serif' font-size="21" font-weight="400" fill="#fff" text-anchor="end">50.00</text>
<rect x="85.5" y="1075.3" width="6" height="2" fill="#fff"/>
<text x="2560.2" y="1085.0" font-family='"Liberation Sans", Arial, Helvetica, sans-serif' font-size="21" font-weight="400" fill="#fff" text-anchor="start">50.00</text>
<rect x="2548" y="1075.3" width="7.5" height="2" fill="#fff"/>
<text x="77.6" y="1193.5" font-family='"Liberation Sans", Arial, Helvetica, sans-serif' font-size="21" font-weight="400" fill="#fff" text-anchor="end">40.00</text>
<rect x="85.5" y="1183.8" width="6" height="2" fill="#fff"/>
<text x="2560.2" y="1193.5" font-family='"Liberation Sans", Arial, Helvetica, sans-serif' font-size="21" font-weight="400" fill="#fff" text-anchor="start">40.00</text>
<rect x="2548" y="1183.8" width="7.5" height="2" fill="#fff"/>
<text x="77.6" y="1302.0" font-family='"Liberation Sans", Arial, Helvetica, sans-serif' font-size="21" font-weight="400" fill="#fff" text-anchor="end">30.00</text>
<rect x="85.5" y="1292.3" width="6" height="2" fill="#fff"/>
<text x="2560.2" y="1302.0" font-family='"Liberation Sans", Arial, Helvetica, sans-serif' font-size="21" font-weight="400" fill="#fff" text-anchor="start">30.00</text>
<rect x="2548" y="1292.3" width="7.5" height="2" fill="#fff"/>
<text x="2560.2" y="543.9" font-family='"Liberation Sans", Arial, Helvetica, sans-serif' font-size="21" font-weight="400" fill="#fff" text-anchor="start">100.00</text>
<text x="77.6" y="543.9" font-family='"Liberation Sans", Arial, Helvetica, sans-serif' font-size="21" font-weight="400" fill="#fff" text-anchor="end">100.00</text>
<rect x="5.7" y="431.7" width="87.3" height="30.2" fill="#e8392b"/><text x="77.6" y="454.5" font-family='"Liberation Sans", Arial, Helvetica, sans-serif' font-size="21" font-weight="400" fill="#fff" text-anchor="end">108.26</text>
<rect x="17.7" y="528.7" width="75.3" height="30.5" fill="#f09d3e"/><text x="77.6" y="551.7" font-family='"Liberation Sans", Arial, Helvetica, sans-serif' font-size="21" font-weight="400" fill="#fff" text-anchor="end">99.28</text>
<rect x="17.7" y="559.2" width="75.3" height="30.6" fill="#5585e0"/><text x="77.6" y="582.2" font-family='"Liberation Sans", Arial, Helvetica, sans-serif' font-size="21" font-weight="400" fill="#fff" text-anchor="end">98.32</text>
<rect x="16.8" y="1231.1" width="76.2" height="30.0" fill="#6191c8"/><text x="77.6" y="1253.8" font-family='"Liberation Sans", Arial, Helvetica, sans-serif' font-size="21" font-weight="400" fill="#fff" text-anchor="end">34.39</text>
<rect x="2546" y="431.7" width="88.0" height="30.2" fill="#e8392b"/><text x="2560.2" y="454.5" font-family='"Liberation Sans", Arial, Helvetica, sans-serif' font-size="21" font-weight="400" fill="#fff" text-anchor="start">108.26</text>
<rect x="2546" y="528.7" width="76.0" height="30.5" fill="#f09d3e"/><text x="2560.2" y="551.7" font-family='"Liberation Sans", Arial, Helvetica, sans-serif' font-size="21" font-weight="400" fill="#fff" text-anchor="start">99.28</text>
<rect x="2546" y="559.2" width="76.0" height="30.6" fill="#5585e0"/><text x="2560.2" y="582.2" font-family='"Liberation Sans", Arial, Helvetica, sans-serif' font-size="21" font-weight="400" fill="#fff" text-anchor="start">98.32</text>
<rect x="2546" y="1231.1" width="76.0" height="30.0" fill="#6191c8"/><text x="2560.2" y="1253.8" font-family='"Liberation Sans", Arial, Helvetica, sans-serif' font-size="21" font-weight="400" fill="#fff" text-anchor="start">34.39</text>
<rect x="87" y="446.2" width="4" height="1.2" fill="#f4a9a2" opacity="0.7"/>
<rect x="2549" y="446.2" width="4" height="1.2" fill="#f4a9a2" opacity="0.7"/>
<rect x="87" y="543.3" width="4" height="1.2" fill="#f8d0a0" opacity="0.7"/>
<rect x="2549" y="543.3" width="4" height="1.2" fill="#f8d0a0" opacity="0.7"/>
<rect x="87" y="573.9" width="4" height="1.2" fill="#a9c2f0" opacity="0.7"/>
<rect x="2549" y="573.9" width="4" height="1.2" fill="#a9c2f0" opacity="0.7"/>
<rect x="87" y="1245.5" width="4" height="1.2" fill="#b0c8e8" opacity="0.7"/>
<rect x="2549" y="1245.5" width="4" height="1.2" fill="#b0c8e8" opacity="0.7"/>
<text x="77.6" y="1431.5" font-family='"Liberation Sans", Arial, Helvetica, sans-serif' font-size="21" font-weight="400" fill="#fff" text-anchor="end">0.0000</text>
<text x="2560.2" y="1431.5" font-family='"Liberation Sans", Arial, Helvetica, sans-serif' font-size="21" font-weight="400" fill="#fff" text-anchor="start">0.0000</text>
<text x="77.6" y="1530.2" font-family='"Liberation Sans", Arial, Helvetica, sans-serif' font-size="21" font-weight="400" fill="#fff" text-anchor="end">-20.0000</text>
<rect x="84.6" y="1520.4" width="6.5" height="2" fill="#fff"/>
<text x="2560.2" y="1530.2" font-family='"Liberation Sans", Arial, Helvetica, sans-serif' font-size="21" font-weight="400" fill="#fff" text-anchor="start">-20.0000</text>
<rect x="2548" y="1520.4" width="8" height="2" fill="#fff"/>
<rect x="5.4" y="1348" width="87.6" height="30.7" fill="#e8392b"/><text x="77.6" y="1371.0" font-family='"Liberation Sans", Arial, Helvetica, sans-serif' font-size="21" font-weight="400" fill="#fff" text-anchor="end">7.9456</text>
<rect x="5.4" y="1378.7" width="87.6" height="31.1" fill="#5585e0"/><text x="77.6" y="1402.0" font-family='"Liberation Sans", Arial, Helvetica, sans-serif' font-size="21" font-weight="400" fill="#fff" text-anchor="end">5.6238</text>
<rect x="0" y="1419.4" width="90.8" height="31.0" fill="#fff"/><text x="77.6" y="1442.6" font-family='"Liberation Sans", Arial, Helvetica, sans-serif' font-size="21" font-weight="400" fill="#000" text-anchor="end">-2.3218</text>
<rect x="2546" y="1348" width="87.6" height="30.7" fill="#e8392b"/><text x="2560.2" y="1371.0" font-family='"Liberation Sans", Arial, Helvetica, sans-serif' font-size="21" font-weight="400" fill="#fff" text-anchor="start">7.9456</text>
<rect x="2546" y="1378.7" width="87.6" height="31.1" fill="#5585e0"/><text x="2560.2" y="1402.0" font-family='"Liberation Sans", Arial, Helvetica, sans-serif' font-size="21" font-weight="400" fill="#fff" text-anchor="start">5.6238</text>
<rect x="2549" y="1419.9" width="92.7" height="30.6" fill="#fff"/><text x="2560.2" y="1442.9" font-family='"Liberation Sans", Arial, Helvetica, sans-serif' font-size="21" font-weight="400" fill="#000" text-anchor="start">-2.3218</text>
<rect x="87" y="1362.7" width="4" height="1.2" fill="#f4a9a2" opacity="0.7"/>
<rect x="2549" y="1362.7" width="4" height="1.2" fill="#f4a9a2" opacity="0.7"/>
<rect x="87" y="1393.6000000000001" width="4" height="1.2" fill="#a9c2f0" opacity="0.7"/>
<rect x="2549" y="1393.6000000000001" width="4" height="1.2" fill="#a9c2f0" opacity="0.7"/>
<rect x="87" y="1433.4" width="6" height="1.6" fill="#888"/>
<rect x="2549" y="1433.4" width="6" height="1.6" fill="#888"/>
<rect x="190.9" y="1537" width="2" height="5.5" fill="#fff"/>
<text x="191.9" y="1564.4" font-family='"Liberation Sans", Arial, Helvetica, sans-serif' font-size="21" font-weight="400" fill="#fff" text-anchor="middle">Sep</text>
<rect x="373.6" y="1537" width="2" height="5.5" fill="#fff"/>
<text x="374.6" y="1564.4" font-family='"Liberation Sans", Arial, Helvetica, sans-serif' font-size="21" font-weight="400" fill="#fff" text-anchor="middle">Nov</text>
<rect x="579.2" y="1537" width="2" height="5.5" fill="#fff"/>
<text x="578.6" y="1564.4" font-family='"Liberation Sans", Arial, Helvetica, sans-serif' font-size="21" font-weight="700" fill="#fff" text-anchor="middle">2021</text>
<rect x="762.0" y="1537" width="2" height="5.5" fill="#fff"/>
<text x="763.0" y="1564.4" font-family='"Liberation Sans", Arial, Helvetica, sans-serif' font-size="21" font-weight="400" fill="#fff" text-anchor="middle">Mar</text>
<rect x="967.6" y="1537" width="2" height="5.5" fill="#fff"/>
<text x="968.6" y="1564.4" font-family='"Liberation Sans", Arial, Helvetica, sans-serif' font-size="21" font-weight="400" fill="#fff" text-anchor="middle">May</text>
<rect x="1173.2" y="1537" width="2" height="5.5" fill="#fff"/>
<text x="1174.2" y="1564.4" font-family='"Liberation Sans", Arial, Helvetica, sans-serif' font-size="21" font-weight="400" fill="#fff" text-anchor="middle">Jul</text>
<rect x="1378.8" y="1537" width="2" height="5.5" fill="#fff"/>
<text x="1379.8" y="1564.4" font-family='"Liberation Sans", Arial, Helvetica, sans-serif' font-size="21" font-weight="400" fill="#fff" text-anchor="middle">Sep</text>
<rect x="1561.6" y="1537" width="2" height="5.5" fill="#fff"/>
<text x="1562.6" y="1564.4" font-family='"Liberation Sans", Arial, Helvetica, sans-serif' font-size="21" font-weight="400" fill="#fff" text-anchor="middle">Nov</text>
<rect x="1767.2" y="1537" width="2" height="5.5" fill="#fff"/>
<text x="1766.6" y="1564.4" font-family='"Liberation Sans", Arial, Helvetica, sans-serif' font-size="21" font-weight="700" fill="#fff" text-anchor="middle">2022</text>
<rect x="1972.8" y="1537" width="2" height="5.5" fill="#fff"/>
<text x="1973.8" y="1564.4" font-family='"Liberation Sans", Arial, Helvetica, sans-serif' font-size="21" font-weight="400" fill="#fff" text-anchor="middle">Mar</text>
<rect x="2155.5" y="1537" width="2" height="5.5" fill="#fff"/>
<text x="2156.5" y="1564.4" font-family='"Liberation Sans", Arial, Helvetica, sans-serif' font-size="21" font-weight="400" fill="#fff" text-anchor="middle">May</text>
<rect x="2361.2" y="1537" width="2" height="5.5" fill="#fff"/>
<text x="2362.2" y="1564.4" font-family='"Liberation Sans", Arial, Helvetica, sans-serif' font-size="21" font-weight="400" fill="#fff" text-anchor="middle">Jul</text>
<rect x="381.8" y="1535.4" width="124" height="36.8" fill="#6191c8"/>
<rect x="443.6" y="1536" width="1.4" height="6" fill="#a9c6ea"/>
<text x="443.2" y="1564.4" font-family='"Liberation Sans", Arial, Helvetica, sans-serif' font-size="21" font-weight="400" fill="#fff" text-anchor="middle">2020-11-23</text>
<rect x="105.2" y="168.8" width="23" height="23.2" rx="3" ry="3" fill="none" stroke="#b0b0b0" stroke-width="1.6"/>
<rect x="109.5" y="179.6" width="14.5" height="1.8" fill="#b0b0b0"/>
<text x="141.7" y="193.3" font-family='"Liberation Sans", Arial, Helvetica, sans-serif' font-size="32" font-weight="400" fill="#fff" text-anchor="start" textLength="474" lengthAdjust="spacingAndGlyphs" stroke="#fff" stroke-width="0.7">Crude Oil WTI Futures, W, (CFD)</text>
<polygon points="625.3,178.6 639.2,178.6 632.25,186" fill="#c8c8c8"/>
<rect x="658.5" y="170.4" width="27" height="27" fill="#242424"/><ellipse cx="672.0" cy="183.9" rx="9.3" ry="7.6" fill="none" stroke="#0c0c0c" stroke-width="2.6"/><circle cx="672.0" cy="183.9" r="2.6" fill="#0c0c0c"/>
<rect x="691.8" y="170.4" width="27" height="27" fill="#242424"/><rect x="703.0999999999999" y="173.70000000000002" width="4.4" height="20.4" fill="#0c0c0c" transform="rotate(0 705.3 183.9)"/><rect x="703.0999999999999" y="173.70000000000002" width="4.4" height="20.4" fill="#0c0c0c" transform="rotate(45 705.3 183.9)"/><rect x="703.0999999999999" y="173.70000000000002" width="4.4" height="20.4" fill="#0c0c0c" transform="rotate(90 705.3 183.9)"/><rect x="703.0999999999999" y="173.70000000000002" width="4.4" height="20.4" fill="#0c0c0c" transform="rotate(135 705.3 183.9)"/><circle cx="705.3" cy="183.9" r="7.4" fill="#0c0c0c"/><circle cx="705.3" cy="183.9" r="3.2" fill="#242424"/>
<text x="735.2" y="193.8" font-family='"Liberation Sans", Arial, Helvetica, sans-serif' font-size="28" font-weight="400" fill="#fff" text-anchor="start" textLength="18" lengthAdjust="spacingAndGlyphs" stroke="#fff" stroke-width="0.55">O</text>
<text x="761.7" y="193.8" font-family='"Liberation Sans", Arial, Helvetica, sans-serif' font-size="28" font-weight="400" fill="#e83424" text-anchor="start" textLength="79.6" lengthAdjust="spacingAndGlyphs" stroke="#e83424" stroke-width="0.55">108.67</text>
<text x="863.4" y="193.8" font-family='"Liberation Sans", Arial, Helvetica, sans-serif' font-size="28" font-weight="400" fill="#fff" text-anchor="start" textLength="16.1" lengthAdjust="spacingAndGlyphs" stroke="#fff" stroke-width="0.55">H</text>
<text x="888.7" y="193.8" font-family='"Liberation Sans", Arial, Helvetica, sans-serif' font-size="28" font-weight="400" fill="#e83424" text-anchor="start" textLength="80.6" lengthAdjust="spacingAndGlyphs" stroke="#e83424" stroke-width="0.55">111.44</text>
<text x="990.2" y="193.8" font-family='"Liberation Sans", Arial, Helvetica, sans-serif' font-size="28" font-weight="400" fill="#fff" text-anchor="start" textLength="12.8" lengthAdjust="spacingAndGlyphs" stroke="#fff" stroke-width="0.55">L</text>
<text x="1009" y="193.8" font-family='"Liberation Sans", Arial, Helvetica, sans-serif' font-size="28" font-weight="400" fill="#e83424" text-anchor="start" textLength="66.1" lengthAdjust="spacingAndGlyphs" stroke="#e83424" stroke-width="0.55">95.17</text>
<text x="1097.5" y="193.8" font-family='"Liberation Sans", Arial, Helvetica, sans-serif' font-size="28" font-weight="400" fill="#fff" text-anchor="start" textLength="14.9" lengthAdjust="spacingAndGlyphs" stroke="#fff" stroke-width="0.55">C</text>
<text x="1119.1" y="193.8" font-family='"Liberation Sans", Arial, Helvetica, sans-serif' font-size="28" font-weight="400" fill="#e83424" text-anchor="start" textLength="67.9" lengthAdjust="spacingAndGlyphs" stroke="#e83424" stroke-width="0.55">99.28</text>
<text x="105.6" y="232.7" font-family='"Liberation Sans", Arial, Helvetica, sans-serif' font-size="22" font-weight="400" fill="#fff" text-anchor="start" textLength="184" lengthAdjust="spacingAndGlyphs" stroke="#fff" stroke-width="0.45">EMA (35, close, 0)</text>
<polygon points="300.5,221.1 312.5,221.1 306.5,227.29999999999998" fill="#c8c8c8"/>
<rect x="333.5" y="211.6" width="27" height="27" fill="#242424"/><ellipse cx="347.0" cy="225.1" rx="9.3" ry="7.6" fill="none" stroke="#0c0c0c" stroke-width="2.6"/><circle cx="347.0" cy="225.1" r="2.6" fill="#0c0c0c"/>
<rect x="366" y="211.6" width="27" height="27" fill="#242424"/><rect x="377.3" y="214.9" width="4.4" height="20.4" fill="#0c0c0c" transform="rotate(0 379.5 225.1)"/><rect x="377.3" y="214.9" width="4.4" height="20.4" fill="#0c0c0c" transform="rotate(45 379.5 225.1)"/><rect x="377.3" y="214.9" width="4.4" height="20.4" fill="#0c0c0c" transform="rotate(90 379.5 225.1)"/><rect x="377.3" y="214.9" width="4.4" height="20.4" fill="#0c0c0c" transform="rotate(135 379.5 225.1)"/><circle cx="379.5" cy="225.1" r="7.4" fill="#0c0c0c"/><circle cx="379.5" cy="225.1" r="3.2" fill="#242424"/>
<rect x="399.3" y="211.6" width="27" height="27" fill="#242424"/><path d="M403.8 216.1 L421.8 234.1 M421.8 216.1 L403.8 234.1" stroke="#0c0c0c" stroke-width="2.6" fill="none"/>
<text x="442.6" y="233.29999999999998" font-family='"Liberation Sans", Arial, Helvetica, sans-serif' font-size="22.5" font-weight="400" fill="#4a84e4" text-anchor="start" textLength="79.5" lengthAdjust="spacingAndGlyphs" stroke="#4a84e4" stroke-width="0.45">98.3242</text>
<text x="105.6" y="273.3" font-family='"Liberation Sans", Arial, Helvetica, sans-serif' font-size="22" font-weight="400" fill="#fff" text-anchor="start" textLength="184" lengthAdjust="spacingAndGlyphs" stroke="#fff" stroke-width="0.45">EMA (10, close, 0)</text>
<polygon points="300.5,261.7 312.5,261.7 306.5,267.90000000000003" fill="#c8c8c8"/>
<rect x="333.5" y="252.2" width="27" height="27" fill="#242424"/><ellipse cx="347.0" cy="265.7" rx="9.3" ry="7.6" fill="none" stroke="#0c0c0c" stroke-width="2.6"/><circle cx="347.0" cy="265.7" r="2.6" fill="#0c0c0c"/>
<rect x="366" y="252.2" width="27" height="27" fill="#242424"/><rect x="377.3" y="255.5" width="4.4" height="20.4" fill="#0c0c0c" transform="rotate(0 379.5 265.7)"/><rect x="377.3" y="255.5" width="4.4" height="20.4" fill="#0c0c0c" transform="rotate(45 379.5 265.7)"/><rect x="377.3" y="255.5" width="4.4" height="20.4" fill="#0c0c0c" transform="rotate(90 379.5 265.7)"/><rect x="377.3" y="255.5" width="4.4" height="20.4" fill="#0c0c0c" transform="rotate(135 379.5 265.7)"/><circle cx="379.5" cy="265.7" r="7.4" fill="#0c0c0c"/><circle cx="379.5" cy="265.7" r="3.2" fill="#242424"/>
<rect x="399.3" y="252.2" width="27" height="27" fill="#242424"/><path d="M403.8 256.7 L421.8 274.7 M421.8 256.7 L403.8 274.7" stroke="#0c0c0c" stroke-width="2.6" fill="none"/>
<text x="442.6" y="273.90000000000003" font-family='"Liberation Sans", Arial, Helvetica, sans-serif' font-size="22.5" font-weight="400" fill="#e83424" text-anchor="start" textLength="92" lengthAdjust="spacingAndGlyphs" stroke="#e83424" stroke-width="0.45">108.2618</text>
<circle cx="2375.2" cy="180.6" r="5.6" fill="#9a9a9a"/>
<text x="2387.6" y="188.2" font-family='"Liberation Sans", Arial, Helvetica, sans-serif' font-size="24" font-weight="400" fill="#9a9a9a" text-anchor="start" textLength="146.3" lengthAdjust="spacingAndGlyphs" stroke="#9a9a9a" stroke-width="0.4">Market Closed</text>
<text x="104.6" y="1379.3" font-family='"Liberation Sans", Arial, Helvetica, sans-serif' font-size="22" font-weight="400" fill="#fff" text-anchor="start" textLength="242" lengthAdjust="spacingAndGlyphs" stroke="#fff" stroke-width="0.45">MACD (12, 26, close, 9)</text>
<polygon points="356.8,1366.6 370,1366.6 363.4,1373.4" fill="#c8c8c8"/>
<rect x="390.4" y="1358.2" width="27" height="27" fill="#242424"/><ellipse cx="403.9" cy="1371.7" rx="9.3" ry="7.6" fill="none" stroke="#0c0c0c" stroke-width="2.6"/><circle cx="403.9" cy="1371.7" r="2.6" fill="#0c0c0c"/>
<rect x="423" y="1358.2" width="27" height="27" fill="#242424"/><rect x="434.3" y="1361.5" width="4.4" height="20.4" fill="#0c0c0c" transform="rotate(0 436.5 1371.7)"/><rect x="434.3" y="1361.5" width="4.4" height="20.4" fill="#0c0c0c" transform="rotate(45 436.5 1371.7)"/><rect x="434.3" y="1361.5" width="4.4" height="20.4" fill="#0c0c0c" transform="rotate(90 436.5 1371.7)"/><rect x="434.3" y="1361.5" width="4.4" height="20.4" fill="#0c0c0c" transform="rotate(135 436.5 1371.7)"/><circle cx="436.5" cy="1371.7" r="7.4" fill="#0c0c0c"/><circle cx="436.5" cy="1371.7" r="3.2" fill="#242424"/>
<rect x="455.8" y="1358.2" width="27" height="27" fill="#242424"/><path d="M460.3 1362.7 L478.3 1380.7 M478.3 1362.7 L460.3 1380.7" stroke="#0c0c0c" stroke-width="2.6" fill="none"/>
<text x="499.6" y="1379.3" font-family='"Liberation Sans", Arial, Helvetica, sans-serif' font-size="22" font-weight="400" fill="#fff" text-anchor="start" textLength="76.8" lengthAdjust="spacingAndGlyphs" stroke="#fff" stroke-width="0.45">-2.3218</text>
<text x="596.7" y="1379.3" font-family='"Liberation Sans", Arial, Helvetica, sans-serif' font-size="22" font-weight="400" fill="#4a84e4" text-anchor="start" textLength="68.1" lengthAdjust="spacingAndGlyphs" stroke="#4a84e4" stroke-width="0.45">5.6238</text>
<text x="685.4" y="1379.3" font-family='"Liberation Sans", Arial, Helvetica, sans-serif' font-size="22" font-weight="400" fill="#e83424" text-anchor="start" textLength="68" lengthAdjust="spacingAndGlyphs" stroke="#e83424" stroke-width="0.45">7.9456</text>
<text x="1860.8" y="218.3" font-family='"DejaVu Sans", Verdana, "Liberation Sans", sans-serif' font-size="27" font-weight="700" fill="#fff" text-anchor="start" textLength="76" lengthAdjust="spacingAndGlyphs">$130</text>
<text x="443" y="871.6" font-family='"DejaVu Sans", Verdana, "Liberation Sans", sans-serif' font-size="27" font-weight="700" fill="#fff" text-anchor="start" textLength="233.8" lengthAdjust="spacingAndGlyphs">Russia Invades</text>
<text x="443" y="898.8" font-family='"DejaVu Sans", Verdana, "Liberation Sans", sans-serif' font-size="27" font-weight="700" fill="#fff" text-anchor="start" textLength="231.8" lengthAdjust="spacingAndGlyphs">Ukraine Feb 24</text>
<text x="443.6" y="1272.9" font-family='"DejaVu Sans", Verdana, "Liberation Sans", sans-serif' font-size="27" font-weight="700" fill="#fff" text-anchor="start" textLength="253.6" lengthAdjust="spacingAndGlyphs">WTI Crude ~$40</text>
<text x="499.6" y="1300.6" font-family='"DejaVu Sans", Verdana, "Liberation Sans", sans-serif' font-size="27" font-weight="700" fill="#fff" text-anchor="start" textLength="128.1" lengthAdjust="spacingAndGlyphs">Q4 2020</text>
<text x="2294.6" y="639.1" font-family='"DejaVu Sans", Verdana, "Liberation Sans", sans-serif' font-size="27" font-weight="700" fill="#fff" text-anchor="start" textLength="232.9" lengthAdjust="spacingAndGlyphs">Expect Support</text>
<text x="2313.4" y="666.2" font-family='"DejaVu Sans", Verdana, "Liberation Sans", sans-serif' font-size="27" font-weight="700" fill="#fff" text-anchor="start" textLength="194.5" lengthAdjust="spacingAndGlyphs">($90 to $95)</text>
<path d="M691.4 913 L706.2 927.8 M707.2 911.5 L707.2 928.8 L690.2 928.8" fill="none" stroke="#fff" stroke-width="5.2" stroke-linejoin="miter" stroke-linecap="butt"/>
<path d="M441.8 1237.4 L426.6 1222.2 M444.3 1221.4 L425.6 1221.4 L425.6 1239.2" fill="none" stroke="#fff" stroke-width="5.2" stroke-linejoin="miter" stroke-linecap="butt"/>
<circle cx="2272.2" cy="251.8" r="14.3" fill="#3b8af2"/>
<text x="2272.2" y="257.6" font-family='"DejaVu Sans", Verdana, "Liberation Sans", sans-serif' font-size="17.5" font-weight="700" fill="#fff" text-anchor="middle">P</text>
<rect x="0" y="1572.2" width="2652" height="5.8" fill="#fff"/>
<rect x="2651" y="0" width="1" height="1578" fill="#fff"/>
</svg>
</body></html>
